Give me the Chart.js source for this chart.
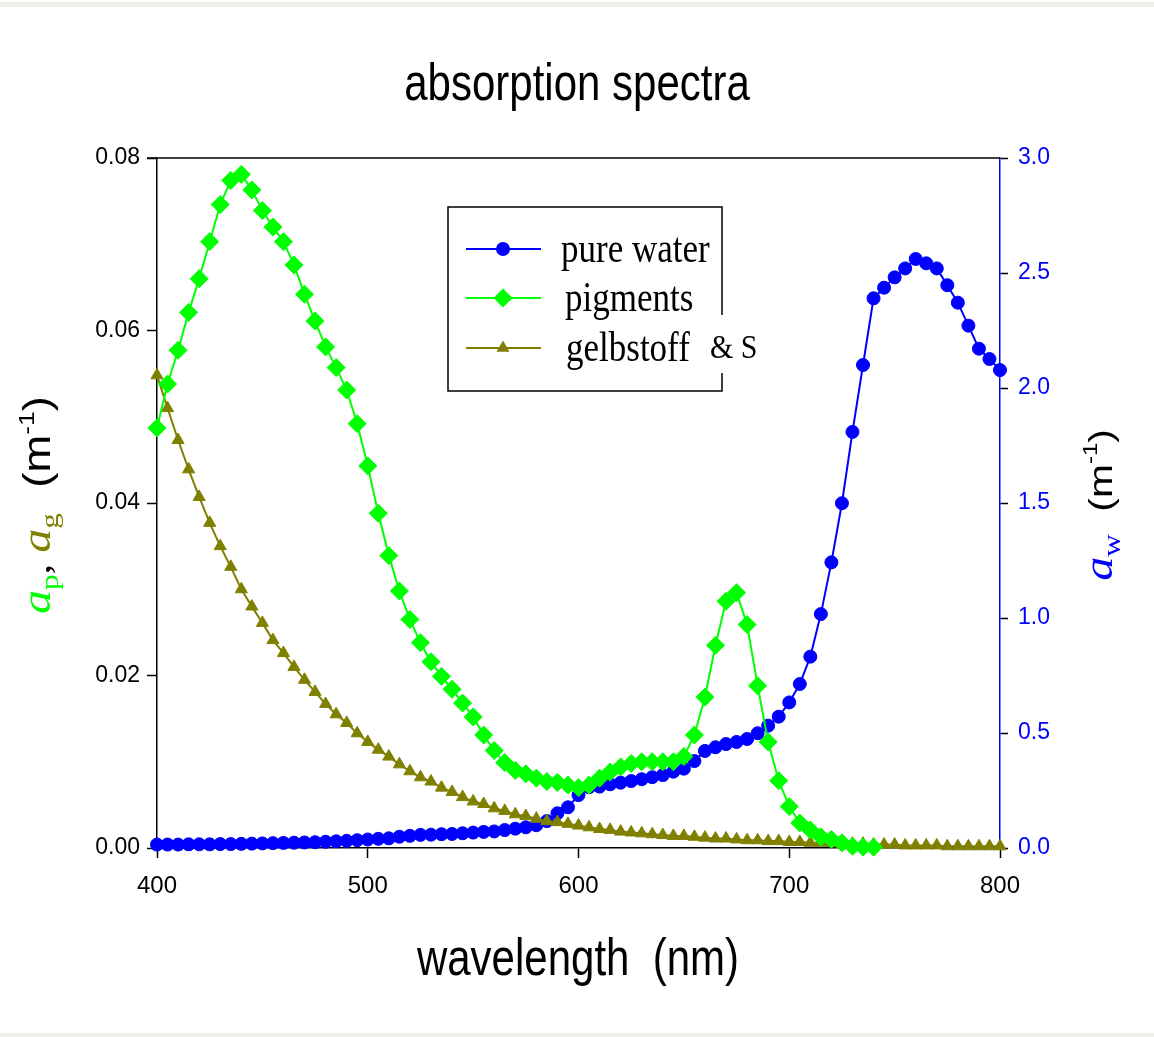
<!DOCTYPE html>
<html>
<head>
<meta charset="utf-8">
<script src="https://cdn.jsdelivr.net/npm/chart.js@4/dist/chart.umd.min.js"></script>
<style>
  html, body { margin: 0; padding: 0; background: #fff; }
  canvas { display: block; }
</style>
</head>
<body>
<canvas id="myChart" width="1154" height="1037"></canvas>
<script>
// wavelengths (nm), one point every 5 nm
const WAVELENGTH = [
  400, 405, 410, 415, 420, 425, 430, 435, 440, 445, 450, 455, 460, 465, 470, 475, 480, 485, 490, 495,
  500, 505, 510, 515, 520, 525, 530, 535, 540, 545, 550, 555, 560, 565, 570, 575, 580, 585, 590, 595,
  600, 605, 610, 615, 620, 625, 630, 635, 640, 645, 650, 655, 660, 665, 670, 675, 680, 685, 690, 695,
  700, 705, 710, 715, 720, 725, 730, 735, 740, 745, 750, 755, 760, 765, 770, 775, 780, 785, 790, 795,
  800
];

// pure water, right axis (m^-1)
const WATER = [
  0.015, 0.015, 0.015, 0.016, 0.016, 0.016, 0.017, 0.017, 0.018, 0.019, 0.020, 0.021, 0.022, 0.023, 0.024, 0.025, 0.027, 0.029, 0.031, 0.034,
  0.037, 0.040, 0.042, 0.049, 0.053, 0.057, 0.058, 0.060, 0.061, 0.064, 0.067, 0.070, 0.072, 0.078, 0.084, 0.090, 0.099, 0.117, 0.151, 0.177,
  0.230, 0.264, 0.267, 0.277, 0.284, 0.291, 0.299, 0.308, 0.317, 0.332, 0.345, 0.378, 0.422, 0.438, 0.452, 0.461, 0.474, 0.499, 0.532, 0.571,
  0.633, 0.713, 0.832, 1.017, 1.242, 1.499, 1.809, 2.100, 2.390, 2.436, 2.481, 2.520, 2.561, 2.542, 2.520, 2.447, 2.371, 2.271, 2.171, 2.126,
  2.078
];

// pigments, left axis (m^-1), 400 - 740 nm
const PIGMENTS = [
  0.0487, 0.0538, 0.0577, 0.0621, 0.0660, 0.0703, 0.0746, 0.0774, 0.0781, 0.0763, 0.0739, 0.0720, 0.0703, 0.0676, 0.0642, 0.0611, 0.0581, 0.0557, 0.0531, 0.0492,
  0.0443, 0.0388, 0.0339, 0.0298, 0.0265, 0.0238, 0.0216, 0.0199, 0.0184, 0.0168, 0.0152, 0.0131, 0.0113, 0.0099, 0.0090, 0.0086, 0.0081, 0.0077, 0.0076, 0.0073,
  0.0070, 0.0073, 0.0081, 0.0088, 0.0094, 0.0098, 0.0100, 0.0100, 0.0100, 0.0100, 0.0106, 0.0131, 0.0175, 0.0235, 0.0286, 0.0296, 0.0259, 0.0188, 0.0123, 0.0078,
  0.0048, 0.0029, 0.0021, 0.0013, 0.0010, 0.0006, 0.0002, 0.0001, 0.0001
];

// gelbstoff, left axis (m^-1)
const GELBSTOFF = [
  0.0548, 0.0510, 0.0473, 0.0439, 0.0407, 0.0377, 0.0350, 0.0326, 0.0300, 0.0280, 0.0261, 0.0241, 0.0226, 0.0210, 0.0195, 0.0181, 0.0167, 0.0155, 0.0145, 0.0133,
  0.0123, 0.0114, 0.0106, 0.0097, 0.0089, 0.0082, 0.0077, 0.0070, 0.0065, 0.0059, 0.0054, 0.0051, 0.0046, 0.0043, 0.0039, 0.0037, 0.0034, 0.0031, 0.0030, 0.0028,
  0.0026, 0.0024, 0.0022, 0.0021, 0.0019, 0.0018, 0.0017, 0.0016, 0.0015, 0.0014, 0.0014, 0.0013, 0.0012, 0.0011, 0.0011, 0.0010, 0.0009, 0.0009, 0.0008, 0.0008,
  0.0007, 0.0007, 0.0006, 0.0006, 0.0006, 0.0005, 0.0005, 0.0005, 0.0004, 0.0004, 0.0004, 0.0003, 0.0003, 0.0003, 0.0003, 0.0002, 0.0002, 0.0002, 0.0002, 0.0002,
  0.0002
];

const X_TICKS = [400, 500, 600, 700, 800];
const LEFT_TICKS = [0, 0.02, 0.04, 0.06, 0.08];
const RIGHT_TICKS = [0, 0.5, 1.0, 1.5, 2.0, 2.5, 3.0];
const SERIES_NAMES = ["pure water", "pigments", "gelbstoff"];

const BLUE = "#0000ff";
const GREEN = "#00ff00";
const OLIVE = "#808000";
const SANS = "'Liberation Sans', Arial, sans-serif";
const SERIF = "'Liberation Serif', 'Times New Roman', serif";

function toPoints(values) {
  return values.map((v, i) => ({ x: WAVELENGTH[i], y: v }));
}

// draw a line of text stretched vertically, like the original
function stretchText(ctx, s, x, y, font, color, align, sy) {
  ctx.save();
  ctx.translate(x, y);
  ctx.scale(1, sy);
  ctx.font = font;
  ctx.fillStyle = color;
  ctx.textAlign = align;
  ctx.textBaseline = "alphabetic";
  ctx.fillText(s, 0, 0);
  ctx.restore();
}

// rotated rich text (reads bottom to top), parts = [{t, f, c, dy}]
function richVertical(ctx, parts, baseX, centerY, stretch) {
  ctx.save();
  ctx.translate(baseX, centerY);
  ctx.rotate(-Math.PI / 2);
  ctx.scale(stretch, 1);
  ctx.textBaseline = "alphabetic";
  ctx.textAlign = "left";
  let total = 0;
  parts.forEach((p) => { ctx.font = p.f; p.w = ctx.measureText(p.t).width; total += p.w; });
  let x = -total / 2;
  parts.forEach((p) => {
    ctx.font = p.f;
    ctx.fillStyle = p.c;
    ctx.fillText(p.t, x, p.dy || 0);
    x += p.w;
  });
  ctx.restore();
}

function marker(ctx, style, x, y, r, color) {
  ctx.save();
  ctx.fillStyle = color;
  ctx.beginPath();
  if (style === "circle") {
    ctx.arc(x, y, r, 0, Math.PI * 2);
  } else if (style === "rectRot") {
    ctx.moveTo(x - r, y); ctx.lineTo(x, y - r); ctx.lineTo(x + r, y); ctx.lineTo(x, y + r);
  } else {
    ctx.moveTo(x, y - r);
    ctx.lineTo(x + r * Math.sin(2 * Math.PI / 3), y - r * Math.cos(2 * Math.PI / 3));
    ctx.lineTo(x + r * Math.sin(4 * Math.PI / 3), y - r * Math.cos(4 * Math.PI / 3));
  }
  ctx.closePath();
  ctx.fill();
  ctx.restore();
}

const decorPlugin = {
  id: "decor",
  beforeDraw(chart) {
    const ctx = chart.ctx;
    ctx.save();
    ctx.fillStyle = "#ffffff";
    ctx.fillRect(0, 0, chart.width, chart.height);
    ctx.fillStyle = "#efefe7";
    ctx.fillRect(0, 2, chart.width, 5);
    ctx.fillRect(0, 1033, chart.width, 4);
    ctx.restore();
  },
  afterDraw(chart) {
    const ctx = chart.ctx;
    const a = chart.chartArea;
    ctx.save();
    // top frame line
    ctx.strokeStyle = "#000";
    ctx.lineWidth = 1.5;
    ctx.beginPath();
    ctx.moveTo(a.left - 10, a.top);
    ctx.lineTo(a.right, a.top);
    ctx.stroke();

    // titles
    stretchText(ctx, "absorption spectra", 577, 100, "42px " + SANS, "#000", "center", 1.22);
    stretchText(ctx, "wavelength  (nm)", 578, 975, "42px " + SANS, "#000", "center", 1.22);

    richVertical(ctx, [
      { t: "a", f: "italic 40px " + SERIF, c: GREEN },
      { t: "p", f: "26px " + SERIF, c: GREEN, dy: 8 },
      { t: ", ", f: "36px " + SERIF, c: "#000" },
      { t: "a", f: "italic 40px " + SERIF, c: OLIVE },
      { t: "g", f: "26px " + SERIF, c: OLIVE, dy: 8 },
      { t: "  (m", f: "38px " + SANS, c: "#000" },
      { t: "-1", f: "22px " + SANS, c: "#000", dy: -16 },
      { t: ")", f: "38px " + SANS, c: "#000" },
    ], 50, 505, 1.2);

    richVertical(ctx, [
      { t: "a", f: "italic 40px " + SERIF, c: BLUE },
      { t: "w", f: "26px " + SERIF, c: BLUE, dy: 8 },
      { t: "  (m", f: "34px " + SANS, c: "#000" },
      { t: "-1", f: "20px " + SANS, c: "#000", dy: -15 },
      { t: ")", f: "34px " + SANS, c: "#000" },
    ], 1112, 505, 1.2);

    // legend box
    ctx.strokeStyle = "#000";
    ctx.lineWidth = 1.5;
    ctx.beginPath();
    ctx.moveTo(722, 315);
    ctx.lineTo(722, 207);
    ctx.lineTo(448, 207);
    ctx.lineTo(448, 391);
    ctx.lineTo(722, 391);
    ctx.lineTo(722, 373);
    ctx.stroke();

    const rowsY = [249, 298, 348];
    const textX = [561, 565, 566];
    chart.data.datasets.forEach((ds, i) => {
      const y = rowsY[i];
      ctx.strokeStyle = ds.borderColor;
      ctx.lineWidth = 2;
      ctx.beginPath();
      ctx.moveTo(466, y);
      ctx.lineTo(541, y);
      ctx.stroke();
      marker(ctx, ds.pointStyle, 503, y, ds.pointRadius + 0.5, ds.backgroundColor);
      stretchText(ctx, ds.label, textX[i], y + 13, "35px " + SERIF, "#000", "left", 1.2);
    });
    stretchText(ctx, "& S", 710, 358, "30px " + SERIF, "#000", "left", 1.1);
    ctx.restore();
  },
};

function generateGraph() {
  const ctx = document.getElementById("myChart").getContext("2d");
  return new Chart(ctx, {
    type: "line",
    data: {
      datasets: [
        {
          label: SERIES_NAMES[0],
          data: toPoints(WATER),
          yAxisID: "y2",
          borderColor: BLUE,
          backgroundColor: BLUE,
          pointStyle: "circle",
          pointRadius: 6.5,
          pointBorderWidth: 1,
          borderWidth: 2,
          order: 3,
        },
        {
          label: SERIES_NAMES[1],
          data: toPoints(PIGMENTS),
          yAxisID: "y",
          borderColor: GREEN,
          backgroundColor: GREEN,
          pointStyle: "rectRot",
          pointRadius: 9,
          pointBorderWidth: 1,
          borderWidth: 2,
          order: 1,
        },
        {
          label: SERIES_NAMES[2],
          data: toPoints(GELBSTOFF),
          yAxisID: "y",
          borderColor: OLIVE,
          backgroundColor: OLIVE,
          pointStyle: "triangle",
          pointRadius: 7,
          pointBorderWidth: 1,
          borderWidth: 2,
          order: 2,
        },
      ],
    },
    options: {
      responsive: false,
      animation: false,
      devicePixelRatio: 1,
      clip: false,
      layout: { padding: { top: 158, left: 0, right: 0, bottom: 0 } },
      plugins: {
        legend: { display: false },
        title: { display: false },
        tooltip: { enabled: false },
      },
      elements: { line: { tension: 0 } },
      scales: {
        x: {
          type: "linear",
          position: "bottom",
          min: 400,
          max: 800,
          afterFit: (s) => { s.height = 189; },
          afterBuildTicks: (s) => { s.ticks = X_TICKS.map((v) => ({ value: v })); },
          border: { color: "#000", width: 1.5 },
          grid: { drawOnChartArea: false, drawTicks: true, tickLength: 10, tickColor: "#000", tickWidth: 1.5 },
          ticks: { color: "#000", padding: 14, maxRotation: 0, font: { family: SANS, size: 24 } },
        },
        y: {
          position: "left",
          min: 0,
          max: 0.08,
          afterFit: (s) => { s.width = 157; },
          afterBuildTicks: (s) => { s.ticks = LEFT_TICKS.map((v) => ({ value: v })); },
          border: { color: "#000", width: 1.5 },
          grid: { drawOnChartArea: false, drawTicks: true, tickLength: 10, tickColor: "#000", tickWidth: 1.5 },
          ticks: { color: "#000", padding: 7, font: { family: SANS, size: 23 }, callback: (v) => v.toFixed(2) },
        },
        y2: {
          position: "right",
          min: 0,
          max: 3,
          afterFit: (s) => { s.width = 154; },
          afterBuildTicks: (s) => { s.ticks = RIGHT_TICKS.map((v) => ({ value: v })); },
          border: { color: BLUE, width: 1.5 },
          grid: { drawOnChartArea: false, drawTicks: true, tickLength: 8, tickColor: "#000", tickWidth: 1.5 },
          ticks: { color: BLUE, padding: 10, font: { family: SANS, size: 23 }, callback: (v) => v.toFixed(1) },
        },
      },
    },
    plugins: [decorPlugin],
  });
}

generateGraph();
</script>
</body>
</html>
